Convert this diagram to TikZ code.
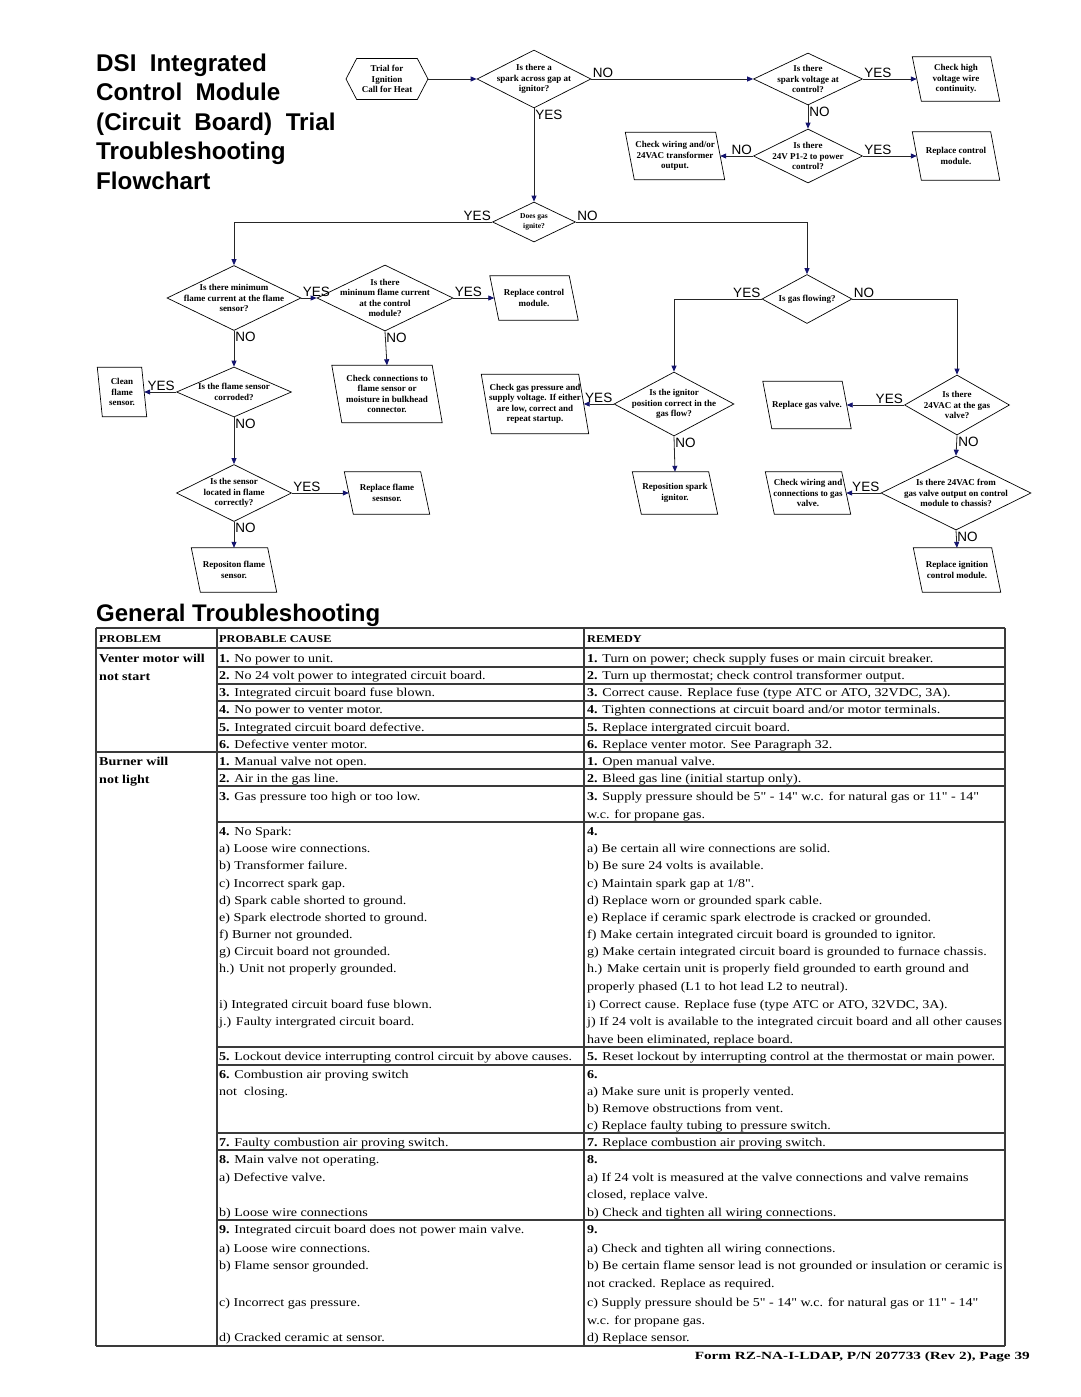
\documentclass[tikz,border=0pt]{standalone}
\usepackage{fontspec}
\setmainfont{Liberation Serif}
\newfontfamily\headfont{Liberation Sans}
\newfontfamily\rawserif{Liberation Serif}
\usepackage{graphicx}
\usepackage{tikz}
\usetikzlibrary{arrows.meta,calc,positioning,shapes.geometric,shapes.symbols}
\definecolor{tipblue}{HTML}{14146E}
\definecolor{rulegray}{HTML}{3A3A3A}
\newcommand{\tabline}[1]{\scalebox{1.17}[1]{#1}}
\newcommand{\inchmark}{{\rawserif"}}

\begin{document}
\begin{tikzpicture}[
    x=1pt, y=-1pt,
    ttl/.style={anchor=base west, inner sep=0pt, font=\headfont\bfseries\fontsize{24.2}{30}\selectfont},
    yn/.style={inner sep=1pt, font=\headfont\fontsize{13.5}{14}\selectfont},
    qtxt/.style={align=center, inner sep=0pt, font=\bfseries\fontsize{9}{10.5}\selectfont},
    dia/.style 2 args={diamond, draw, line width=0.7pt, inner sep=0pt, minimum width=#1pt, minimum height=#2pt},
    act/.style 2 args={rectangle, inner sep=0pt, align=center, font=\bfseries\fontsize{9}{10.5}\selectfont, minimum width=#1pt, minimum height=#2pt},
    flow/.style={draw=black!85, line width=0.8pt, -{Triangle[length=6pt,width=5pt,color=tipblue]}},
    tabcell/.style={anchor=base west, inner sep=0pt, font=\fontsize{12}{14}\selectfont},
    tabhead/.style={anchor=base west, inner sep=0pt, font=\bfseries\fontsize{10.5}{12}\selectfont},
    tabrule/.style={draw=rulegray, line width=1.1pt}
]
\useasboundingbox (0,0) rectangle (1080,1397);

\foreach \t [count=\i from 0] in {DSI\ \ Integrated, Control\ \ Module, {(Circuit\ \ Board)\ \ Trial}, Troubleshooting, Flowchart}
    \node[ttl] (title\i) at (96,71+29.6*\i) {\t};

\node[qtxt, signal, signal to=west and east, signal pointer angle=125, draw, line width=0.7pt, minimum width=82pt, minimum height=41pt] (start) at (387,79) {Trial for\\Ignition\\Call for Heat};

\node[dia={114}{58}] (d1) at (534,79) {};
\node[qtxt] (d1t) at (d1) {Is there a\\spark across gap at\\ignitor?};
\node[dia={109}{52}] (d2) at (808,79) {};
\node[qtxt] (d2t) at (d2) {Is there\\spark voltage at\\control?};
\node[dia={109}{54}] (d3) at (808,156) {};
\node[qtxt] (d3t) at (d3) {Is there\\24V P1-2 to power\\control?};
\node[dia={83}{40}] (d4) at (534,222) {};
\node[qtxt, font=\bfseries\fontsize{7.5}{10}\selectfont] (d4t) at (d4) {Does gas\\ignite?};
\node[dia={134}{65}] (d5) at (234,298) {};
\node[qtxt] (d5t) at (d5) {Is there minimum\\flame current at the flame\\sensor?};
\node[dia={136}{66}] (d6) at (385,298) {};
\node[qtxt] (d6t) at (d6) {Is there\\mininum flame current\\at the control\\module?};
\node[dia={115}{50}] (d7) at (234,392) {};
\node[qtxt] (d7t) at (d7) {Is the flame sensor\\corroded?};
\node[dia={115}{57}] (d8) at (234,493) {};
\node[qtxt] (d8t) at (d8) {Is the sensor\\located in flame\\correctly?};
\node[dia={90}{49}] (dgas) at (807,299) {};
\node[qtxt] (dgast) at (dgas) {Is gas flowing?};
\node[dia={120}{64}] (d9) at (674,404) {};
\node[qtxt] (d9t) at (d9) {Is the ignitor\\position correct in the\\gas flow?};
\node[dia={105}{60}] (d10) at (957,405) {};
\node[qtxt] (d10t) at (d10) {Is there\\24VAC at the gas\\valve?};
\node[dia={150}{74}] (d11) at (956,493) {};
\node[qtxt] (d11t) at (d11) {Is there 24VAC from\\gas valve output on control\\module to chassis?};

\node[act={78}{44}] (bhv) at (956,79) {Check high\\voltage wire\\continuity.};
\node[act={90}{47}] (bwir) at (675,156) {Check wiring and/or\\24VAC transformer\\output.};
\node[act={78}{48}] (brep1) at (956,156) {Replace control\\module.};
\node[act={79}{44}] (brep2) at (534,298) {Replace control\\module.};
\node[act={44}{49}] (bclean) at (122,392) {Clean\\flame\\sensor.};
\node[act={100}{57}] (bconn) at (387,394) {Check connections to\\flame sensor or\\moisture in bulkhead\\connector.};
\node[act={97}{59}] (bgasp) at (535,404) {Check gas pressure and\\supply voltage. If either\\are low, correct and\\repeat startup.};
\node[act={79}{47}] (bvalve) at (807,405) {Replace gas valve.};
\node[act={76}{42}] (brflame) at (387,493) {Replace flame\\sesnsor.};
\node[act={76}{44}] (brepos) at (234,570) {Repositon flame\\sensor.};
\node[act={76}{42}] (bspark) at (675,493) {Reposition spark\\ignitor.};
\node[act={76}{42}] (bwir2) at (808,493) {Check wiring and\\connections to gas\\valve.};
\node[act={78}{44}] (bign) at (957,570) {Replace ignition\\control module.};

\foreach \b/\s in {bhv/4.5, bwir/4.5, brep1/4.5, brep2/4.5, bclean/2.5, bconn/5, bgasp/5, bvalve/4.5, brflame/4.5, brepos/4.5, bspark/4.5, bwir2/4.5, bign/4.5}
    \draw[line width=0.7pt] ([xshift=-\s]\b.north west) -- ([xshift=-\s]\b.north east) -- ([xshift=\s]\b.south east) -- ([xshift=\s]\b.south west) -- cycle;

\draw[flow] (start.east) -- (d1.west);
\draw[flow] (d1.east) -- node[yn, pos=0, anchor=south west] (l1) {NO} (d2.west);
\draw[flow] (d2.east) -- node[yn, pos=0, anchor=south west] (l2) {YES} (bhv.west);
\draw[flow] (d2.south) -- node[yn, pos=0, anchor=north west] (l3) {NO} (d3.north);
\draw[flow] (d3.west) -- node[yn, pos=0, anchor=south east] (l4) {NO} (bwir.east);
\draw[flow] (d3.east) -- node[yn, pos=0, anchor=south west] (l5) {YES} (brep1.west);
\draw[flow] (d1.south) -- node[yn, pos=0, anchor=north west] (l6) {YES} (d4.north);
\draw[flow] (d4.west) -| node[yn, pos=0, anchor=south east] (l7) {YES} (d5.north);
\draw[flow] (d4.east) -| node[yn, pos=0, anchor=south west] (l8) {NO} (dgas.north);
\draw[flow] (d5.east) -- node[yn, pos=0, anchor=south west] (l9) {YES} (d6.west);
\draw[flow] (d6.east) -- node[yn, pos=0, anchor=south west] (l10) {YES} (brep2.west);
\draw[flow] (d5.south) -- node[yn, pos=0, anchor=north west] (l11) {NO} (d7.north);
\draw[flow] (d6.south) -- node[yn, pos=0, anchor=north west] (l12) {NO} (bconn.north);
\draw[flow] (d7.west) -- node[yn, pos=0, anchor=south east] (l13) {YES} (bclean.east);
\draw[flow] (d7.south) -- node[yn, pos=0, anchor=north west] (l14) {NO} (d8.north);
\draw[flow] (d8.east) -- node[yn, pos=0, anchor=south west] (l15) {YES} (brflame.west);
\draw[flow] (d8.south) -- node[yn, pos=0, anchor=north west] (l16) {NO} (brepos.north);
\draw[flow] (dgas.west) -| node[yn, pos=0, anchor=south east] (l17) {YES} (d9.north);
\draw[flow] (dgas.east) -| node[yn, pos=0, anchor=south west] (l18) {NO} (d10.north);
\draw[flow] (d9.west) -- node[yn, pos=0, anchor=south east] (l19) {YES} (bgasp.east);
\draw[flow] (d9.south) -- node[yn, pos=0, anchor=north west] (l20) {NO} (bspark.north);
\draw[flow] (d10.west) -- node[yn, pos=0, anchor=south east] (l21) {YES} (bvalve.east);
\draw[flow] (d10.south) -- node[yn, pos=0, anchor=north west] (l22) {NO} (d11.north);
\draw[flow] (d11.west) -- node[yn, pos=0, anchor=south east] (l23) {YES} (bwir2.east);
\draw[flow] (d11.south) -- node[yn, pos=0, anchor=north west] (l24) {NO} (bign.north);

\node[anchor=base west, inner sep=0pt, font=\headfont\bfseries\fontsize{24}{28}\selectfont] (gen) at (96,621) {General Troubleshooting};

\foreach \y in {628,648,752,1346} \draw[tabrule] (96,\y) -- (1005,\y);
\foreach \y in {667,684,701,718,735,769,786,822,1047,1065,1133,1150,1220} \draw[tabrule] (217,\y) -- (1005,\y);
\foreach \x in {96,217,584,1005} \draw[tabrule] (\x,628) -- (\x,1346);

\node[tabhead] (hprob) at (99,642) {\tabline{PROBLEM}};
\node[tabhead] (hcause) at (219,642) {\tabline{PROBABLE CAUSE}};
\node[tabhead] (hrem) at (587,642) {\tabline{REMEDY}};

\node[tabcell] (p1) at (99,662) {\tabline{\textbf{Venter motor will}}};
\node[tabcell] (p2) at (99,680) {\tabline{\textbf{not start}}};
\node[tabcell] (p3) at (99,765) {\tabline{\textbf{Burner will}}};
\node[tabcell] (p4) at (99,783) {\tabline{\textbf{not light}}};

\foreach \y/\c/\r [count=\i] in {
    662/{\textbf{1.} No power to unit.}/{\textbf{1.} Turn on power; check supply fuses or main circuit breaker.},
    679/{\textbf{2.} No 24 volt power to integrated circuit board.}/{\textbf{2.} Turn up thermostat; check control transformer output.},
    696/{\textbf{3.} Integrated circuit board fuse blown.}/{\textbf{3.} Correct cause. Replace fuse (type ATC or ATO, 32VDC, 3A).},
    713/{\textbf{4.} No power to venter motor.}/{\textbf{4.} Tighten connections at circuit board and/or motor terminals.},
    731/{\textbf{5.} Integrated circuit board defective.}/{\textbf{5.} Replace intergrated circuit board.},
    748/{\textbf{6.} Defective venter motor.}/{\textbf{6.} Replace venter motor. See Paragraph 32.},
    765/{\textbf{1.} Manual valve not open.}/{\textbf{1.} Open manual valve.},
    782/{\textbf{2.} Air in the gas line.}/{\textbf{2.} Bleed gas line (initial startup only).},
    800/{\textbf{3.} Gas pressure too high or too low.}/{\textbf{3.} Supply pressure should be 5\inchmark{} - 14\inchmark{} w.c. for natural gas or 11\inchmark{} - 14\inchmark},
    818/{}/{w.c. for propane gas.},
    835/{\textbf{4.} No Spark:}/{\textbf{4.}},
    852/{a) Loose wire connections.}/{a) Be certain all wire connections are solid.},
    869/{b) Transformer failure.}/{b) Be sure 24 volts is available.},
    887/{c) Incorrect spark gap.}/{c) Maintain spark gap at 1/8\inchmark.},
    904/{d) Spark cable shorted to ground.}/{d) Replace worn or grounded spark cable.},
    921/{e) Spark electrode shorted to ground.}/{e) Replace if ceramic spark electrode is cracked or grounded.},
    938/{f) Burner not grounded.}/{f) Make certain integrated circuit board is grounded to ignitor.},
    955/{g) Circuit board not grounded.}/{g) Make certain integrated circuit board is grounded to furnace chassis.},
    972/{h.) Unit not properly grounded.}/{h.) Make certain unit is properly field grounded to earth ground and},
    990/{}/{properly phased (L1 to hot lead L2 to neutral).},
    1008/{i) Integrated circuit board fuse blown.}/{i) Correct cause. Replace fuse (type ATC or ATO, 32VDC, 3A).},
    1025/{j.) Faulty intergrated circuit board.}/{j) If 24 volt is available to the integrated circuit board and all other causes},
    1043/{}/{have been eliminated, replace board.},
    1060/{\textbf{5.} Lockout device interrupting control circuit by above causes.}/{\textbf{5.} Reset lockout by interrupting control at the thermostat or main power.},
    1078/{\textbf{6.} Combustion air proving switch}/{\textbf{6.}},
    1095/{not\ \ closing.}/{a) Make sure unit is properly vented.},
    1112/{}/{b) Remove obstructions from vent.},
    1129/{}/{c) Replace faulty tubing to pressure switch.},
    1146/{\textbf{7.} Faulty combustion air proving switch.}/{\textbf{7.} Replace combustion air proving switch.},
    1163/{\textbf{8.} Main valve not operating.}/{\textbf{8.}},
    1181/{a) Defective valve.}/{a) If 24 volt is measured at the valve connections and valve remains},
    1198/{}/{closed, replace valve.},
    1216/{b) Loose wire connections}/{b) Check and tighten all wiring connections.},
    1233/{\textbf{9.} Integrated circuit board does not power main valve.}/{\textbf{9.}},
    1252/{a) Loose wire connections.}/{a) Check and tighten all wiring connections.},
    1269/{b) Flame sensor grounded.}/{b) Be certain flame sensor lead is not grounded or insulation or ceramic is},
    1287/{}/{not cracked. Replace as required.},
    1306/{c) Incorrect gas pressure.}/{c) Supply pressure should be 5\inchmark{} - 14\inchmark{} w.c. for natural gas or 11\inchmark{} - 14\inchmark},
    1324/{}/{w.c. for propane gas.},
    1341/{d) Cracked ceramic at sensor.}/{d) Replace sensor.}
}{
    \node[tabcell] (c\i) at (219,\y) {\tabline{\c}};
    \node[tabcell] (r\i) at (587,\y) {\tabline{\r}};
}

\node[anchor=base east, inner sep=0pt, font=\bfseries\fontsize{11}{13}\selectfont] (form) at (1030,1359) {\resizebox{335pt}{\height}{Form RZ-NA-I-LDAP, P/N 207733 (Rev 2), Page 39}};
\end{tikzpicture}
\end{document}
